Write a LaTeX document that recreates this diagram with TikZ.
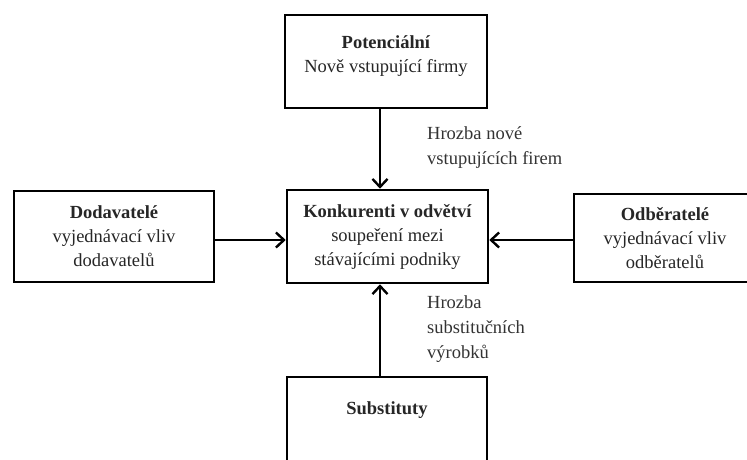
\documentclass[tikz,border=0pt]{standalone}
\usepackage{fontspec}
\setmainfont{Liberation Serif}
\usetikzlibrary{arrows.meta}
\begin{document}
\begin{tikzpicture}[x=1pt,y=-1pt,
  box/.style={draw, line width=2.6pt, align=center, inner sep=0pt,
    font=\fontsize{18.5}{24}\selectfont, text=black!85},
  lbl/.style={align=left, inner sep=0pt, anchor=west,
    font=\fontsize{18.5}{25}\selectfont, text=black!80},
  arr/.style={line width=2.6pt, -{Straight Barb[length=8pt,width=15pt,line width=2.4pt]}}]
\clip (0,0) rectangle (747,459);
\fill[white] (0,0) rectangle (747,459);
\node[box, minimum width=202pt, minimum height=93pt] (top) at (386,61.5)
  {\textbf{Potenciální}\\Nově vstupující firmy\\[-16pt]\strut};
\node[box, minimum width=201pt, minimum height=93pt] (mid) at (387.5,236.5)
  {\textbf{Konkurenti v odvětví}\\soupeření mezi\\stávajícími podniky};
\node[box, minimum width=200pt, minimum height=91pt] (left) at (114,236.5)
  {\textbf{Dodavatelé}\\vyjednávací vliv\\dodavatelů};
\node[box, minimum width=182pt, minimum height=88pt] (right) at (665,238)
  {\textbf{Odběratelé}\\vyjednávací vliv\\odběratelů};
\node[box, minimum width=200pt, minimum height=93pt] (bot) at (387,423.5)
  {\textbf{Substituty}\\\strut};
\node[lbl] (l1) at (427,147.5) {Hrozba nové\\vstupujících firem};
\node[lbl] (l2) at (427,329) {Hrozba\\substitučních\\výrobků};
\draw[arr] ([xshift=-6pt]top.south) -- ([xshift=-7.5pt]mid.north);
\draw[arr] ([xshift=-7pt]bot.north) -- ([xshift=-7.5pt]mid.south);
\draw[arr] ([yshift=-3.5pt]left.east) -- ([yshift=-3.5pt]mid.west);
\draw[arr] ([yshift=-2pt]right.west) -- ([yshift=-3.5pt]mid.east);
\end{tikzpicture}
\end{document}
